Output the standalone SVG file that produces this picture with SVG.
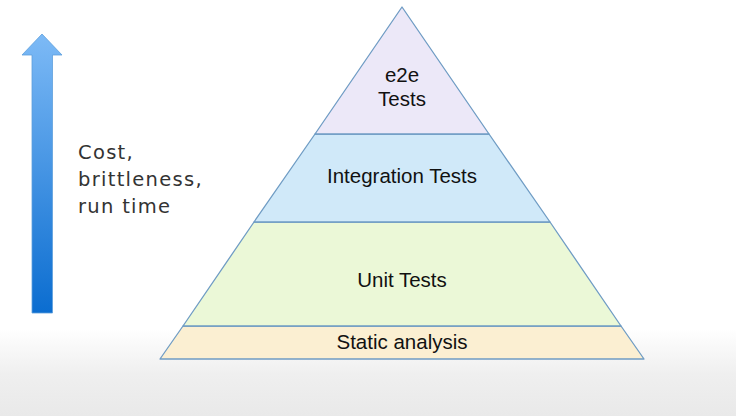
<svg xmlns="http://www.w3.org/2000/svg" width="736" height="416" viewBox="0 0 736 416">
<style>
.lvl{stroke:#6f9cc4;stroke-width:1.3;stroke-linejoin:round}
.lbl{font-family:"Liberation Sans",Arial,sans-serif;font-size:20.5px;fill:#111;text-anchor:middle}
.side{font-family:"DejaVu Sans",sans-serif;font-size:19.5px;fill:#333;letter-spacing:1.3px}
</style>
<defs>
<linearGradient id="bg" x1="0" y1="0" x2="0" y2="1">
<stop offset="0" stop-color="#ffffff"/>
<stop offset="0.79" stop-color="#ffffff"/>
<stop offset="0.9" stop-color="#efefef"/>
<stop offset="1" stop-color="#e9e9e9"/>
</linearGradient>
<linearGradient id="arr" x1="0" y1="0" x2="0" y2="1">
<stop offset="0" stop-color="#7dbaf6"/>
<stop offset="1" stop-color="#0b6dd0"/>
</linearGradient>
</defs>
<rect width="736" height="416" fill="url(#bg)"/>
<g id="arrow">
<path d="M42,34 L62,55 L52.5,55 L52.5,313 L32,313 L32,55 L22,55 Z" fill="url(#arr)" stroke="#5e9fdc" stroke-width="0.8"/>
</g>
<g id="caption">
<text class="side" x="78" y="159">Cost,</text>
<text class="side" x="78" y="186">brittleness,</text>
<text class="side" x="78" y="213">run time</text>
</g>
<g id="static">
<polygon class="lvl" points="183,326 621,326 644,359 160,359" fill="#fbefd2"/>
<text class="lbl" x="402" y="349">Static analysis</text>
</g>
<g id="unit">
<polygon class="lvl" points="254,222 550,222 621,326 183,326" fill="#ebf8d7"/>
<text class="lbl" x="402" y="287">Unit Tests</text>
</g>
<g id="integration">
<polygon class="lvl" points="315,134 489,134 550,222 254,222" fill="#d0e9f9"/>
<text class="lbl" x="402" y="183">Integration Tests</text>
</g>
<g id="e2e">
<polygon class="lvl" points="402,7 489,134 315,134" fill="#ece8f8"/>
<text class="lbl" x="402" y="82">e2e</text>
<text class="lbl" x="402" y="106">Tests</text>
</g>
</svg>
